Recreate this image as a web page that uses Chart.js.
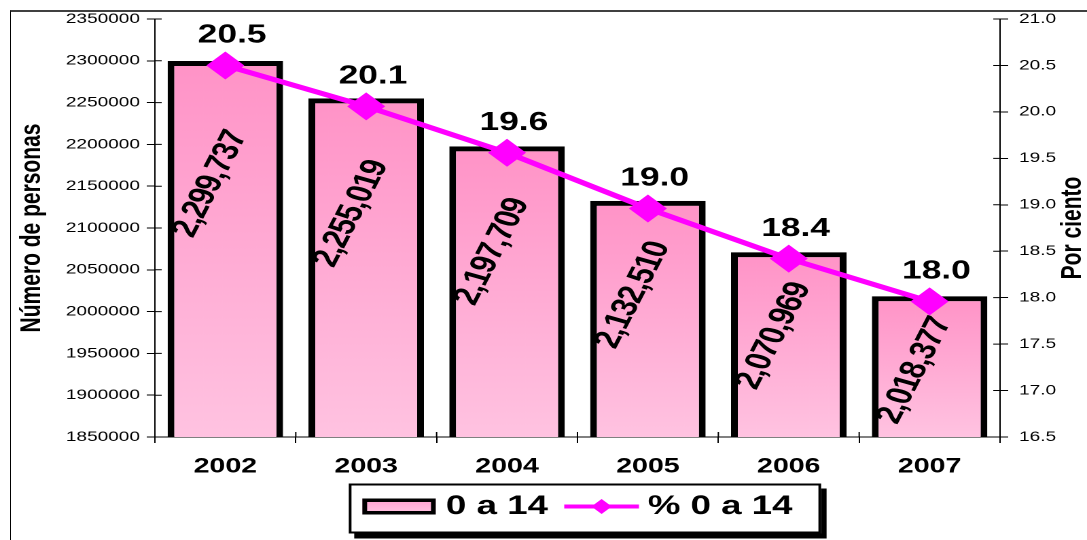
<!DOCTYPE html>
<html><head><meta charset="utf-8">
<script src="https://cdn.jsdelivr.net/npm/chart.js@4/dist/chart.umd.min.js"></script>
<style>
html,body{margin:0;padding:0;background:#fff;overflow:hidden;width:1087px;height:540px}
#frame{position:absolute;left:10px;top:10px;width:1100px;height:600px;border-top:2px solid #404040;border-left:1px solid #000;pointer-events:none}
#wrap{position:absolute;left:0;top:0;width:800px;height:540px;transform:scaleX(1.35875);transform-origin:0 0}
</style></head><body>
<div id="frame"></div>
<div id="wrap"><canvas id="c"></canvas></div>
<script>
// ---- data ----
const years = ['2002', '2003', '2004', '2005', '2006', '2007'];
const persons = [2299737, 2255019, 2197709, 2132510, 2070969, 2018377];
const percent = [20.50, 20.06, 19.56, 18.96, 18.42, 17.96];
const seriesNames = ['0 a 14', '% 0 a 14'];
const axisTitles = ['Número de personas', 'Por ciento'];
const leftRange = [1850000, 2350000, 50000];
const rightRange = [16.5, 21.0, 0.5];

const FONT = "'Liberation Sans', Arial, Helvetica, sans-serif";
Chart.defaults.font.family = FONT;
Chart.defaults.color = '#000';

function barFill(c) {
  const chart = c.chart, area = chart.chartArea;
  if (!area || c.type !== 'data' || !chart.scales.y) return '#ffaad4';
  const top = chart.scales.y.getPixelForValue(c.raw);
  const g = chart.ctx.createLinearGradient(0, top, 0, area.bottom);
  g.addColorStop(0, '#ff93c7');
  g.addColorStop(1, '#ffc3e1');
  return g;
}

const deco = {
  id: 'deco',
  beforeDraw(chart) {
    const lg = chart.legend;
    if (!lg || !lg.legendHitBoxes || !lg.legendHitBoxes.length) return;
    const hb = lg.legendHitBoxes, ctx = chart.ctx;
    const cy = hb[0].top + hb[0].height / 2;
    const last = hb[hb.length - 1];
    const L = hb[0].left - 10, R = last.left + last.width + 21;
    const T = cy - 23, B = cy + 27;
    ctx.save();
    ctx.fillStyle = '#000';
    ctx.fillRect(L + 4, T + 5, R - L, B - T);
    ctx.fillStyle = '#fff';
    ctx.fillRect(L, T, R - L, B - T);
    ctx.lineWidth = 2; ctx.strokeStyle = '#000';
    ctx.strokeRect(L + 1, T + 1, R - L - 2, B - T - 2);
    ctx.restore();
  },
  afterDatasetDraw(chart, args) {
    if (args.index !== 0) return;
    const ctx = chart.ctx, area = chart.chartArea;
    ctx.save();
    ctx.font = 'bold 27px ' + FONT;
    ctx.fillStyle = '#000';
    ctx.textAlign = 'center'; ctx.textBaseline = 'middle';
    try { ctx.letterSpacing = '-1px'; } catch (e) {}
    args.meta.data.forEach((bar, i) => {
      const top = bar.y, bottom = Math.min(bar.base, area.bottom);
      const h = bottom - top;
      const cy = Math.min(top + 46 + 0.205 * h, (top + bottom) / 2 + 4);
      ctx.save();
      ctx.translate(bar.x - 11, cy);
      ctx.rotate(-69 * Math.PI / 180);
      ctx.fillText(persons[i].toLocaleString('en-US'), 0, 0);
      ctx.restore();
    });
    ctx.restore();
  },
  afterDraw(chart) {
    const ctx = chart.ctx, area = chart.chartArea;
    ctx.save();
    // inner halves of tick marks
    ctx.strokeStyle = '#000'; ctx.lineWidth = 1;
    ctx.beginPath();
    const ys = chart.scales.y, y1 = chart.scales.y1, xs = chart.scales.x;
    ys.ticks.forEach((t, i) => { const p = ys.getPixelForTick(i); ctx.moveTo(area.left, p); ctx.lineTo(area.left + 5, p); });
    y1.ticks.forEach((t, i) => { const p = y1.getPixelForTick(i); ctx.moveTo(area.right - 5, p); ctx.lineTo(area.right, p); });
    for (let i = 0; i <= years.length; i++) {
      const p = xs.getPixelForValue(i - 0.5);
      ctx.moveTo(p, area.bottom - 5); ctx.lineTo(p, area.bottom);
    }
    ctx.stroke();
    // percent labels
    const m = chart.getDatasetMeta(1);
    ctx.font = 'bold 26px ' + FONT;
    ctx.fillStyle = '#000';
    ctx.textAlign = 'center'; ctx.textBaseline = 'middle';
    m.data.forEach((pt, i) => ctx.fillText(percent[i].toFixed(1), pt.x + 5, pt.y - 30));
    // right axis title (reads bottom-to-top)
    ctx.save();
    ctx.font = 'bold 21px ' + FONT;
    ctx.translate(y1.right - 10.3, (area.top + area.bottom) / 2);
    ctx.rotate(-Math.PI / 2);
    ctx.fillText(axisTitles[1], 0, 0);
    ctx.restore();
    // legend icons
    const hb = chart.legend.legendHitBoxes;
    if (hb && hb.length === 2) {
      let b = hb[0], cy = b.top + b.height / 2;
      const g = ctx.createLinearGradient(0, cy - 8, 0, cy + 8);
      g.addColorStop(0, '#ff9fcf'); g.addColorStop(1, '#ffc6e3');
      ctx.fillStyle = g;
      ctx.fillRect(b.left, cy - 8, 54, 16);
      ctx.lineWidth = 3.5; ctx.strokeStyle = '#000';
      ctx.strokeRect(b.left + 1.75, cy - 8 + 1.75, 54 - 3.5, 16 - 3.5);
      b = hb[1]; cy = b.top + b.height / 2;
      ctx.strokeStyle = '#ff00ff'; ctx.lineWidth = 4;
      ctx.beginPath(); ctx.moveTo(b.left, cy); ctx.lineTo(b.left + 55, cy); ctx.stroke();
      const cx = b.left + 27.5, r = 7.5;
      ctx.fillStyle = '#ff00ff';
      ctx.beginPath(); ctx.moveTo(cx - r, cy); ctx.lineTo(cx, cy - r); ctx.lineTo(cx + r, cy); ctx.lineTo(cx, cy + r); ctx.closePath(); ctx.fill();
    }
    ctx.restore();
  }
};

new Chart(document.getElementById('c'), {
  type: 'bar',
  data: {
    labels: years,
    datasets: [
      {
        type: 'bar', label: seriesNames[0], data: persons, yAxisID: 'y', order: 1,
        backgroundColor: barFill, borderColor: '#000', borderWidth: 5, borderSkipped: false,
        categoryPercentage: 1.0, barPercentage: 0.82
      },
      {
        type: 'line', label: seriesNames[1], data: percent, yAxisID: 'y1', order: 0,
        borderColor: '#ff00ff', borderWidth: 5, tension: 0, fill: false,
        pointStyle: 'rectRot', pointRadius: 14, pointBackgroundColor: '#ff00ff',
        pointBorderColor: '#ff00ff', pointBorderWidth: 0
      }
    ]
  },
  options: {
    responsive: true, maintainAspectRatio: false, animation: false, devicePixelRatio: 2,
    events: [],
    layout: { padding: { top: 19, bottom: 10, left: 0, right: 0 } },
    plugins: {
      tooltip: { enabled: false },
      legend: {
        position: 'bottom', fullSize: false,
        labels: {
          boxWidth: 48, boxHeight: 16, padding: 12, color: '#000',
          font: { size: 27, weight: 'bold' },
          generateLabels: (chart) => chart.data.datasets.map((d, i) => ({
            text: d.label, fillStyle: 'rgba(0,0,0,0)', strokeStyle: 'rgba(0,0,0,0)',
            lineWidth: 0, hidden: false, datasetIndex: i, fontColor: '#000'
          }))
        }
      }
    },
    scales: {
      x: {
        grid: { offset: true, drawOnChartArea: false, tickLength: 6, color: '#000' },
        border: { color: '#000', width: 1 },
        ticks: { font: { size: 21, weight: 'bold' }, color: '#000', padding: 11, maxRotation: 0, autoSkip: false },
        afterFit(s) { s.height = 44; }
      },
      y: {
        position: 'left', min: leftRange[0], max: leftRange[1],
        grid: { drawOnChartArea: false, tickLength: 6, color: '#000' },
        border: { color: '#000', width: 1 },
        ticks: { stepSize: leftRange[2], font: { size: 14 }, color: '#000', padding: 5, callback: v => String(v) },
        title: { display: true, text: axisTitles[0], font: { size: 21, weight: 'bold' }, color: '#000', padding: { top: 11, bottom: 0 } },
        afterFit(s) { s.width = 114; }
      },
      y1: {
        position: 'right', min: rightRange[0], max: rightRange[1],
        grid: { drawOnChartArea: false, tickLength: 6, color: '#000' },
        border: { color: '#000', width: 1 },
        ticks: { stepSize: rightRange[2], font: { size: 14 }, color: '#000', padding: 8, callback: v => Number(v).toFixed(1) },
        afterFit(s) { s.width = 64; }
      }
    }
  },
  plugins: [deco]
});
</script>
</body></html>
